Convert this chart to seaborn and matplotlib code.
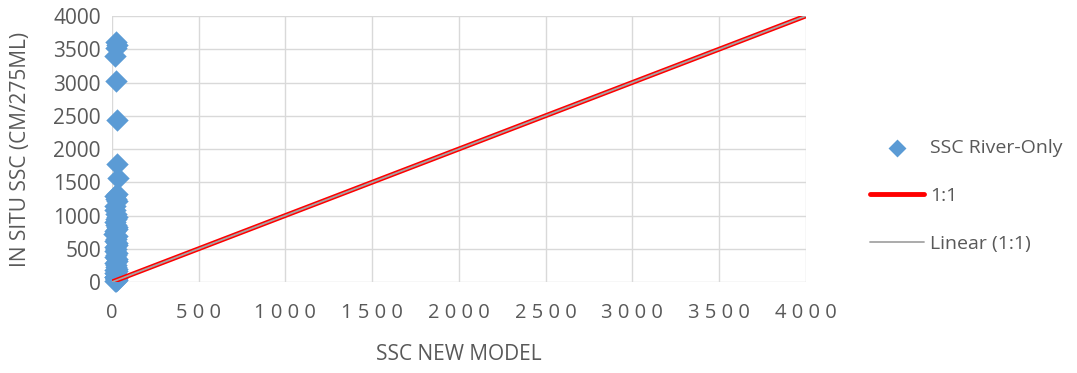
import numpy as np
import pandas as pd
import matplotlib
matplotlib.use('Agg')
import matplotlib.pyplot as plt
import seaborn as sns

# SSC River-Only samples (model value vs in situ value)
ssc_model = [22, 30, 25, 20, 24, 28, 27, 32, 26, 18, 22, 30, 20, 16, 25, 28, 22, 18,
             24, 30, 26, 20, 14, 28, 22, 18, 26, 30, 20, 24, 16, 28, 22, 20, 26, 30,
             18, 24, 22, 28, 20, 26, 16, 24, 30, 22, 18, 20, 26, 24, 22, 28, 20, 24]
ssc_insitu = [3610, 3560, 3520, 3400, 3020, 2440, 1780, 1560, 1330, 1290, 1250, 1220,
              1150, 1080, 1020, 980, 940, 900, 860, 820, 790, 760, 720, 690, 650, 610,
              580, 550, 520, 490, 460, 430, 400, 370, 340, 310, 280, 250, 220, 200, 180,
              160, 140, 120, 100, 90, 80, 70, 60, 50, 40, 30, 20, 10]

line_x = [0, 4000]
line_y = [0, 4000]

x_ticks = [0, 500, 1000, 1500, 2000, 2500, 3000, 3500, 4000]
y_ticks = [0, 500, 1000, 1500, 2000, 2500, 3000, 3500, 4000]

sns.set_style('white')
plt.rcParams['font.family'] = ['Open Sans', 'DejaVu Sans']

fig = plt.figure(figsize=(10.77, 3.73), dpi=100)
ax = fig.add_axes([0.104, 0.244, 0.644, 0.713])

df = pd.DataFrame({'model': ssc_model, 'insitu': ssc_insitu})
sns.scatterplot(data=df, x='model', y='insitu', ax=ax, marker='D', s=130,
                color='#5B9BD5', edgecolor='#5B9BD5', linewidth=0,
                label='SSC River-Only', zorder=3, clip_on=False)
ax.plot(line_x, line_y, color='#FF0000', lw=3.5, label='1:1', zorder=4,
        solid_capstyle='round')
ax.plot(line_x, line_y, color='#A5A5A5', lw=1.3, label='Linear (1:1)', zorder=5)

ax.set_xlim(0, 4000)
ax.set_ylim(0, 4000)
ax.set_xticks(x_ticks)
ax.set_yticks(y_ticks)
# x tick labels in the original are letter-spaced
ax.set_xticklabels([' '.join(str(t)) for t in x_ticks], fontsize=14.5,
                   color='#595959')
ax.set_yticklabels([str(t) for t in y_ticks], fontsize=15, color='#595959')
ax.tick_params(axis='x', pad=15, length=0)
ax.tick_params(axis='y', pad=8, length=0)
ax.grid(True, color='#D9D9D9', lw=1)
for s in ax.spines.values():
    s.set_visible(False)

ax.set_xlabel('SSC NEW MODEL', fontsize=15, color='#595959', labelpad=15)
ax.set_ylabel('IN SITU SSC (CM/275ML)', fontsize=15, color='#595959', labelpad=16)

ax.legend(loc='center left', bbox_to_anchor=(1.081, 0.323), frameon=False,
          fontsize=14, labelcolor='#595959', handlelength=2.8,
          handletextpad=0.3, borderaxespad=0, labelspacing=1.55,
          markerscale=0.8)

fig.savefig('out.png', dpi=100)
